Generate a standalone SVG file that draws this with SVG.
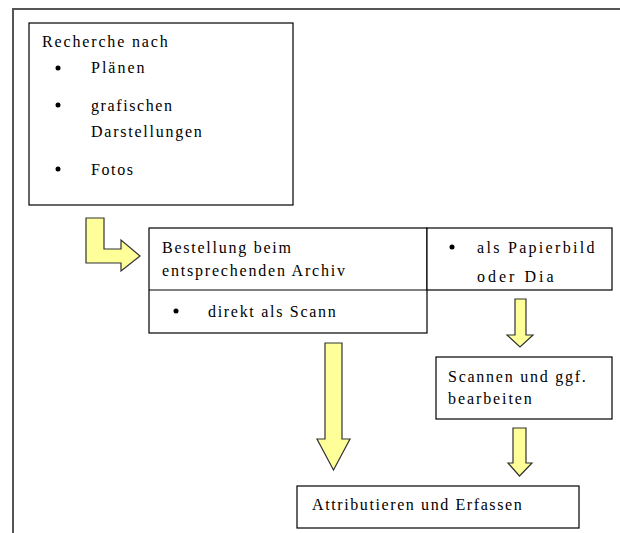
<svg xmlns="http://www.w3.org/2000/svg" width="620" height="533" viewBox="0 0 620 533">
<style>
.box{fill:#fff;stroke:#000;stroke-width:1.2}
.arr{fill:#ffff99;stroke:#333;stroke-width:1.2;stroke-linejoin:miter}
.frame{stroke:#555;stroke-width:2;fill:none}
</style>
<rect width="620" height="533" fill="#fff"/>
<g id="frame"><path class="frame" d="M13,533 V9 H620"/></g>
<g id="recherche">
<rect class="box" x="29" y="23" width="264" height="182"/>
<text font-family="Liberation Serif, serif" font-size="16" x="42" y="47" letter-spacing="1.85">Recherche nach</text>
<circle cx="58" cy="68" r="2.5"/>
<text font-family="Liberation Serif, serif" font-size="16" x="91" y="73" letter-spacing="2">Plänen</text>
<circle cx="58" cy="105" r="2.5"/>
<text font-family="Liberation Serif, serif" font-size="16" x="91" y="111" letter-spacing="1.6">grafischen</text>
<text font-family="Liberation Serif, serif" font-size="16" x="91" y="137" letter-spacing="1.75">Darstellungen</text>
<circle cx="58" cy="169" r="2.5"/>
<text font-family="Liberation Serif, serif" font-size="16" x="91" y="175" letter-spacing="1.6">Fotos</text>
</g>
<g id="bestellung">
<rect class="box" x="149" y="228" width="278" height="105"/>
<line x1="149" y1="290" x2="427" y2="290" stroke="#000" stroke-width="1.2"/>
<text font-family="Liberation Serif, serif" font-size="16" x="162" y="253" letter-spacing="1.75">Bestellung beim</text>
<text font-family="Liberation Serif, serif" font-size="16" x="162" y="276" letter-spacing="1.8">entsprechenden Archiv</text>
<circle cx="176" cy="311" r="2.5"/>
<text font-family="Liberation Serif, serif" font-size="16" x="208" y="317" letter-spacing="1.7">direkt als Scann</text>
</g>
<g id="papierbild">
<rect class="box" x="427" y="228" width="185" height="62"/>
<circle cx="452" cy="247" r="2.5"/>
<text font-family="Liberation Serif, serif" font-size="16" x="477" y="253" letter-spacing="2.3">als Papierbild</text>
<text font-family="Liberation Serif, serif" font-size="16" x="477" y="282" letter-spacing="3">oder Dia</text>
</g>
<g id="scannen">
<rect class="box" x="436" y="357" width="176" height="62"/>
<text font-family="Liberation Serif, serif" font-size="16" x="448" y="382" letter-spacing="1.75">Scannen und ggf.</text>
<text font-family="Liberation Serif, serif" font-size="16" x="448" y="404" letter-spacing="1.9">bearbeiten</text>
</g>
<g id="attributieren">
<rect class="box" x="297" y="486" width="282" height="42"/>
<text font-family="Liberation Serif, serif" font-size="16" x="312" y="510" letter-spacing="1.6">Attributieren und Erfassen</text>
</g>
<g id="connectors">
<path class="arr" d="M86,218 H104 V249 H121 V240 L140,256 L121,271 V263 H86 Z"/>
<path class="arr" d="M515,299 H526 V335 H533 L520,347 L507,335 H515 Z"/>
<path class="arr" d="M325,343 H342 V439 H350 L333.5,470 L317,439 H325 Z"/>
<path class="arr" d="M513,428 H526 V463 H532 L519.5,476 L508,463 H513 Z"/>
</g>
</svg>
